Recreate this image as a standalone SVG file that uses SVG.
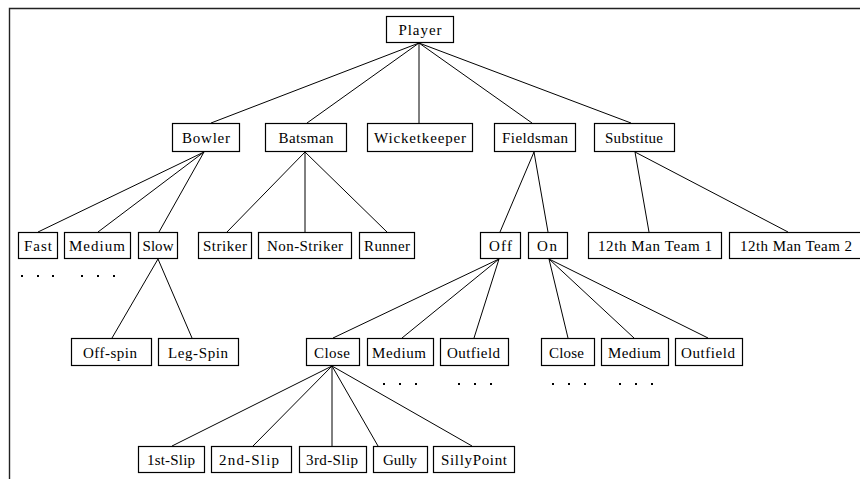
<svg xmlns="http://www.w3.org/2000/svg" width="860" height="479" viewBox="0 0 860 479">
<style>
.n rect{fill:#fff;stroke:#000;stroke-width:1.2}
.n text{font-family:"Liberation Serif","Times New Roman",serif;font-size:15px;fill:#000;text-anchor:middle}
#connectors line{stroke:#000;stroke-width:1}
.frame{stroke:#222;stroke-width:1.4;fill:none}
.dot{fill:#000}
</style>
<rect width="860" height="479" fill="#fff"/>
<path class="frame" d="M9.5,479 V8.5 H860"/>
<g id="connectors">
<line x1="419" y1="43" x2="211" y2="123"/>
<line x1="419" y1="43" x2="307" y2="123"/>
<line x1="419" y1="43" x2="419" y2="123"/>
<line x1="419" y1="43" x2="532" y2="123"/>
<line x1="419" y1="43" x2="631" y2="123"/>
<line x1="204" y1="152" x2="38" y2="232"/>
<line x1="204" y1="152" x2="98" y2="232"/>
<line x1="204" y1="152" x2="159" y2="232"/>
<line x1="305" y1="152" x2="227" y2="232"/>
<line x1="305" y1="152" x2="305" y2="232"/>
<line x1="305" y1="152" x2="387" y2="232"/>
<line x1="534" y1="152" x2="500" y2="232"/>
<line x1="534" y1="152" x2="548" y2="232"/>
<line x1="635" y1="152" x2="649" y2="232"/>
<line x1="635" y1="152" x2="788" y2="232"/>
<line x1="158" y1="259" x2="112" y2="338"/>
<line x1="158" y1="259" x2="192" y2="338"/>
<line x1="499" y1="259" x2="333" y2="338"/>
<line x1="499" y1="259" x2="402" y2="338"/>
<line x1="499" y1="259" x2="474" y2="338"/>
<line x1="549" y1="259" x2="568" y2="338"/>
<line x1="549" y1="259" x2="634" y2="338"/>
<line x1="549" y1="259" x2="708" y2="338"/>
<line x1="332" y1="366" x2="172" y2="446"/>
<line x1="332" y1="366" x2="253" y2="446"/>
<line x1="332" y1="366" x2="332" y2="446"/>
<line x1="332" y1="366" x2="378" y2="446"/>
<line x1="332" y1="366" x2="472" y2="446"/>
</g>
<g id="player" class="n"><rect x="386.5" y="16.5" width="67" height="26"/><text x="420" y="35" textLength="43" lengthAdjust="spacing">Player</text></g>
<g id="bowler" class="n"><rect x="172.5" y="123.5" width="67" height="28"/><text x="206" y="143" textLength="48" lengthAdjust="spacing">Bowler</text></g>
<g id="batsman" class="n"><rect x="265.5" y="123.5" width="81" height="28"/><text x="306" y="143" textLength="55" lengthAdjust="spacing">Batsman</text></g>
<g id="wicketkeeper" class="n"><rect x="367.5" y="123.5" width="105" height="28"/><text x="420" y="143" textLength="92" lengthAdjust="spacing">Wicketkeeper</text></g>
<g id="fieldsman" class="n"><rect x="494.5" y="123.5" width="81" height="28"/><text x="535" y="143" textLength="66" lengthAdjust="spacing">Fieldsman</text></g>
<g id="substitute" class="n"><rect x="594.5" y="123.5" width="80" height="28"/><text x="634" y="143" textLength="58" lengthAdjust="spacing">Substitue</text></g>
<g id="fast" class="n"><rect x="18.5" y="232.5" width="39" height="26"/><text x="38" y="251" textLength="28" lengthAdjust="spacing">Fast</text></g>
<g id="medium1" class="n"><rect x="64.5" y="232.5" width="66" height="26"/><text x="97" y="251" textLength="56" lengthAdjust="spacing">Medium</text></g>
<g id="slow" class="n"><rect x="138.5" y="232.5" width="39" height="26"/><text x="158" y="251" textLength="31" lengthAdjust="spacing">Slow</text></g>
<g id="striker" class="n"><rect x="198.5" y="232.5" width="53" height="26"/><text x="225" y="251" textLength="44" lengthAdjust="spacing">Striker</text></g>
<g id="nonstriker" class="n"><rect x="258.5" y="232.5" width="93" height="26"/><text x="305" y="251" textLength="76" lengthAdjust="spacing">Non-Striker</text></g>
<g id="runner" class="n"><rect x="359.5" y="232.5" width="55" height="26"/><text x="387" y="251" textLength="46" lengthAdjust="spacing">Runner</text></g>
<g id="off" class="n"><rect x="480.5" y="232.5" width="40" height="26"/><text x="500.5" y="251" textLength="23" lengthAdjust="spacing">Off</text></g>
<g id="on" class="n"><rect x="528.5" y="232.5" width="39" height="26"/><text x="547" y="251" textLength="20" lengthAdjust="spacing">On</text></g>
<g id="team1" class="n"><rect x="588.5" y="232.5" width="133" height="26"/><text x="655" y="251" textLength="114" lengthAdjust="spacing">12th Man Team 1</text></g>
<g id="team2" class="n"><rect x="729.5" y="232.5" width="140" height="26"/><text x="796" y="251" textLength="112" lengthAdjust="spacing">12th Man Team 2</text></g>
<g id="offspin" class="n"><rect x="71.5" y="338.5" width="80" height="27"/><text x="110" y="357.5" textLength="54" lengthAdjust="spacing">Off-spin</text></g>
<g id="legspin" class="n"><rect x="158.5" y="338.5" width="80" height="27"/><text x="198" y="357.5" textLength="60" lengthAdjust="spacing">Leg-Spin</text></g>
<g id="close1" class="n"><rect x="306.5" y="338.5" width="53" height="27"/><text x="332" y="357.5" textLength="36" lengthAdjust="spacing">Close</text></g>
<g id="medium2" class="n"><rect x="367.5" y="338.5" width="66" height="27"/><text x="399" y="357.5" textLength="54" lengthAdjust="spacing">Medium</text></g>
<g id="outfield1" class="n"><rect x="440.5" y="338.5" width="68" height="27"/><text x="473.5" y="357.5" textLength="53" lengthAdjust="spacing">Outfield</text></g>
<g id="close2" class="n"><rect x="541.5" y="338.5" width="53" height="27"/><text x="566.5" y="357.5" textLength="35" lengthAdjust="spacing">Close</text></g>
<g id="medium3" class="n"><rect x="601.5" y="338.5" width="67" height="27"/><text x="634.5" y="357.5" textLength="53" lengthAdjust="spacing">Medium</text></g>
<g id="outfield2" class="n"><rect x="675.5" y="338.5" width="67" height="27"/><text x="708" y="357.5" textLength="54" lengthAdjust="spacing">Outfield</text></g>
<g id="slip1" class="n"><rect x="138.5" y="446.5" width="66" height="26"/><text x="171" y="465" textLength="48" lengthAdjust="spacing">1st-Slip</text></g>
<g id="slip2" class="n"><rect x="211.5" y="446.5" width="80" height="26"/><text x="249" y="465" textLength="60" lengthAdjust="spacing">2nd-Slip</text></g>
<g id="slip3" class="n"><rect x="299.5" y="446.5" width="67" height="26"/><text x="332" y="465" textLength="52" lengthAdjust="spacing">3rd-Slip</text></g>
<g id="gully" class="n"><rect x="373.5" y="446.5" width="54" height="26"/><text x="400" y="465" textLength="34" lengthAdjust="spacing">Gully</text></g>
<g id="sillypoint" class="n"><rect x="433.5" y="446.5" width="81" height="26"/><text x="474" y="465" textLength="66" lengthAdjust="spacing">SillyPoint</text></g>
<g id="dots">
<rect class="dot" x="21" y="275" width="2" height="2"/><rect class="dot" x="37" y="275" width="2" height="2"/><rect class="dot" x="52" y="275" width="2" height="2"/>
<rect class="dot" x="81" y="275" width="2" height="2"/><rect class="dot" x="97" y="275" width="2" height="2"/><rect class="dot" x="113" y="275" width="2" height="2"/>
<rect class="dot" x="383" y="383" width="2" height="2"/><rect class="dot" x="399" y="383" width="2" height="2"/><rect class="dot" x="415" y="383" width="2" height="2"/>
<rect class="dot" x="458" y="383" width="2" height="2"/><rect class="dot" x="474" y="383" width="2" height="2"/><rect class="dot" x="490" y="383" width="2" height="2"/>
<rect class="dot" x="552" y="383" width="2" height="2"/><rect class="dot" x="568" y="383" width="2" height="2"/><rect class="dot" x="584" y="383" width="2" height="2"/>
<rect class="dot" x="619" y="383" width="2" height="2"/><rect class="dot" x="635" y="383" width="2" height="2"/><rect class="dot" x="651" y="383" width="2" height="2"/>
</g>
</svg>
